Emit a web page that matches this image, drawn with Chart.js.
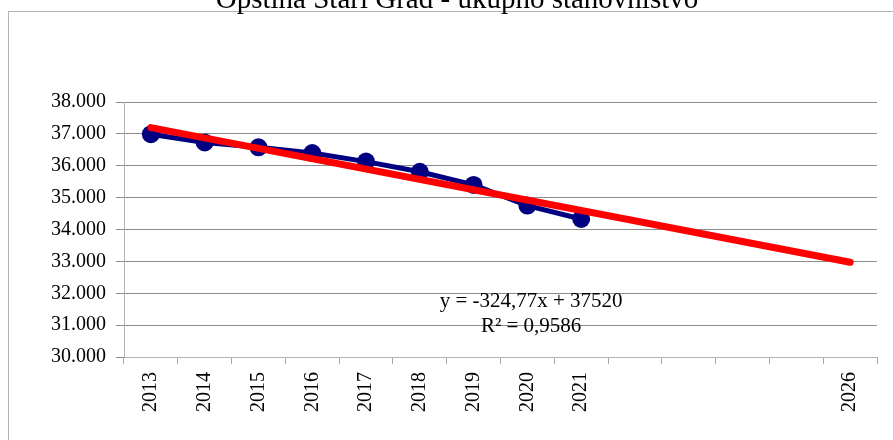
<!DOCTYPE html>
<html>
<head>
<meta charset="utf-8">
<script src="https://cdn.jsdelivr.net/npm/chart.js@4/dist/chart.umd.min.js"></script>
<style>
    html, body { margin: 0; padding: 0; background: #ffffff; }
    #wrap { width: 893px; height: 440px; position: relative; }
</style>
</head>
<body>
<div id="wrap"><canvas id="popChart"></canvas></div>
<script>
const chartTitle = 'Opština Stari Grad - ukupno stanovništvo';
const years = ['2013', '2014', '2015', '2016', '2017', '2018', '2019',
               '2020', '2021', '2022', '2023', '2024', '2025', '2026'];
const tickLabels = ['2013', '2014', '2015', '2016', '2017', '2018', '2019',
                    '2020', '2021', '', '', '', '', '2026'];
const population = [36990, 36730, 36580, 36400, 36130, 35810, 35400,
                    34750, 34330, null, null, null, null, null];
// linear trend, start and end
const trend = [37195, null, null, null, null, null, null,
               null, null, null, null, null, null, 32973];
const trendText = ['y = -324,77x + 37520', 'R² = 0,9586'];
const yTicks = { min: 30000, max: 38000, step: 1000 };

function formatThousands(v) {
    return String(v).replace(/\B(?=(\d{3})+(?!\d))/g, '.');
}

document.addEventListener('DOMContentLoaded', function() {
    const serif = '"Liberation Serif", "Times New Roman", serif';

    const frameAndText = {
        id: 'frameAndText',
        beforeDraw(chart) {
            const ctx = chart.ctx;
            ctx.save();
            ctx.fillStyle = '#ffffff';
            ctx.fillRect(0, 0, chart.width, chart.height);
            ctx.strokeStyle = '#b3b3b3';
            ctx.lineWidth = 1;
            ctx.strokeRect(8.5, 11.5, 1000, 1000);
            ctx.restore();
        },
        afterDraw(chart) {
            const ctx = chart.ctx;
            const x = chart.scales.x;
            const y = chart.scales.y;
            ctx.save();
            ctx.fillStyle = '#000000';
            ctx.textAlign = 'center';
            ctx.textBaseline = 'alphabetic';
            ctx.font = '29px ' + serif;
            ctx.fillText(chartTitle, 457, 8);

            // trendline label, placed in data coordinates
            const cx = x.getPixelForValue(7.07);
            ctx.font = '21px ' + serif;
            ctx.fillText(trendText[0], cx, y.getPixelForValue(31560));
            ctx.fillText(trendText[1], cx, y.getPixelForValue(30770));
            ctx.restore();
        }
    };

    new Chart(document.getElementById('popChart'), {
        type: 'line',
        data: {
            labels: years,
            datasets: [{
                label: 'Linear trend',
                data: trend,
                borderColor: '#ff0000',
                borderWidth: 7,
                borderCapStyle: 'round',
                pointRadius: 0,
                spanGaps: true,
                tension: 0,
                order: 0
            }, {
                label: 'Stanovništvo',
                data: population,
                borderColor: '#000080',
                backgroundColor: '#000080',
                borderWidth: 5,
                pointRadius: 9,
                pointBorderWidth: 0,
                tension: 0,
                order: 1
            }]
        },
        options: {
            responsive: true,
            maintainAspectRatio: false,
            animation: false,
            layout: { padding: { top: 102, right: 16, left: 0, bottom: 0 } },
            plugins: {
                legend: { display: false },
                tooltip: { enabled: false }
            },
            scales: {
                x: {
                    offset: true,
                    afterFit(scale) { scale.height = 83; },
                    grid: {
                        offset: true,
                        drawOnChartArea: false,
                        tickLength: 7,
                        color: '#a6a6a6'
                    },
                    border: { color: '#b3b3b3' },
                    ticks: {
                        autoSkip: false,
                        minRotation: 90,
                        maxRotation: 90,
                        padding: 8,
                        color: '#000000',
                        font: { family: serif, size: 20 },
                        callback: function(value, index) { return tickLabels[index]; }
                    }
                },
                y: {
                    min: yTicks.min,
                    max: yTicks.max,
                    afterFit(scale) { scale.width = 124; },
                    grid: { color: '#8c8c8c', tickLength: 8 },
                    border: { color: '#b3b3b3' },
                    ticks: {
                        stepSize: yTicks.step,
                        padding: 10,
                        color: '#000000',
                        font: { family: serif, size: 20 },
                        callback: function(value) { return formatThousands(value); }
                    }
                }
            }
        },
        plugins: [frameAndText]
    });
});
</script>
</body>
</html>
